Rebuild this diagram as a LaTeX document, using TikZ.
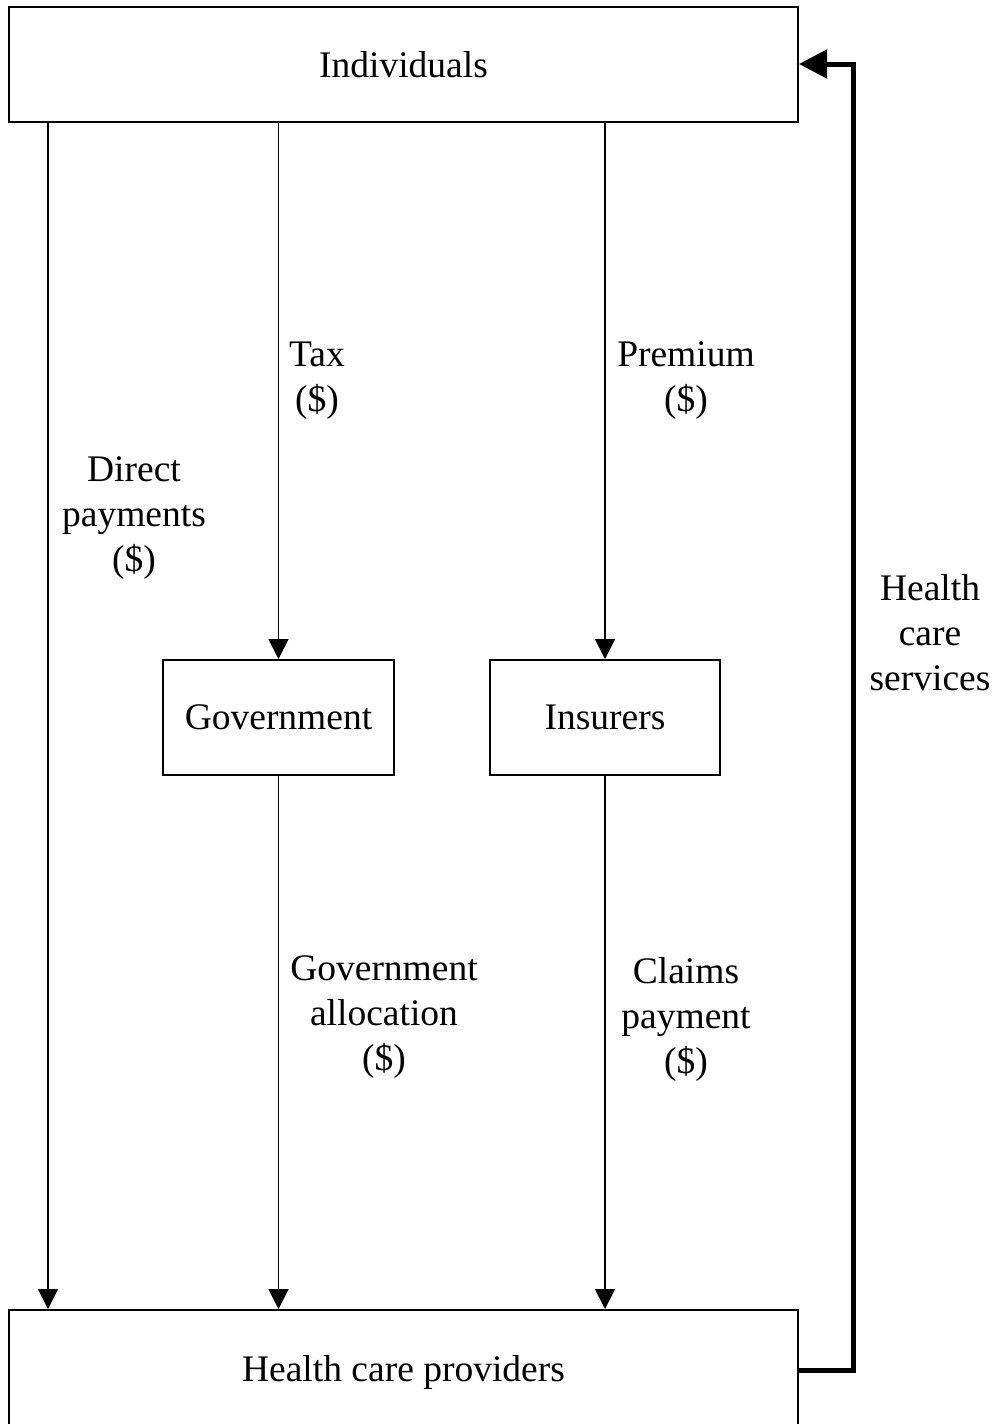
\documentclass[tikz,border=0pt]{standalone}
\usepackage{fontspec}
\setmainfont{Liberation Serif}
\usetikzlibrary{arrows.meta}
\begin{document}
\begin{tikzpicture}[x=1pt,y=-1pt,
  box/.style={draw,line width=2pt,minimum height=115pt,inner sep=0pt,font=\fontsize{37.5}{45}\selectfont},
  lbl/.style={align=center,inner sep=0pt,font=\fontsize{37.5}{45}\selectfont},
  flow/.style={line width=1.8pt,-{Triangle[length=20pt,width=20pt]}},
  thick flow/.style={line width=5pt,-{Triangle[length=28pt,width=28pt]}}]
\useasboundingbox (0,0) rectangle (997,1424);
\node[box,minimum width=789pt] (ind) at (403.5,64.5) {Individuals};
\node[box,minimum width=789pt,minimum height=124pt] (hcp) at (403.5,1372) {Health care providers};
\node[box,minimum width=231pt] (gov) at (278.5,717.5) {Government};
\node[box,minimum width=230pt] (ins) at (605,717.5) {Insurers};
\draw[flow] (ind.south -| 48,0) -- (hcp.north -| 48,0);
\draw[flow] (ind.south -| gov.north) -- (gov.north);
\draw[flow] (gov.south) -- (hcp.north -| gov.south);
\draw[flow] (ind.south -| ins.north) -- (ins.north);
\draw[flow] (ins.south) -- (hcp.north -| ins.south);
\coordinate (c1) at (853,1370);
\coordinate (c2) at (853,64);
\draw[thick flow] (hcp.east |- c1) -- (c1) -- (c2) -- (ind.east |- c2);
\node[lbl] (l1) at (134,518) {Direct\\payments\\(\$)};
\node[lbl] (l2) at (317,381) {Tax\\(\$)};
\node[lbl] (l3) at (686,381) {Premium\\(\$)};
\node[lbl] (l4) at (930,633) {Health\\care\\services};
\node[lbl] (l5) at (384,1017) {Government\\allocation\\(\$)};
\node[lbl] (l6) at (686,1019) {Claims\\payment\\(\$)};
\end{tikzpicture}
\end{document}
